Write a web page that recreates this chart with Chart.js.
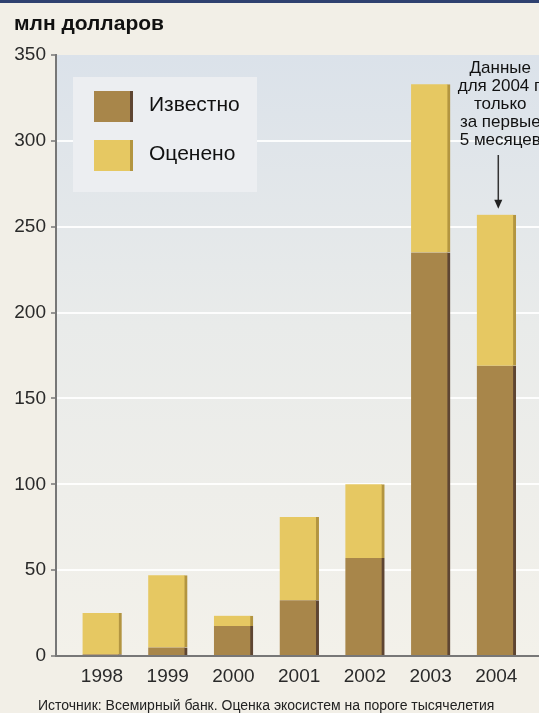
<!DOCTYPE html>
<html>
<head>
<meta charset="utf-8">
<script src="https://cdn.jsdelivr.net/npm/chart.js@4.4.1/dist/chart.umd.min.js"></script>
<style>
  html, body { margin: 0; padding: 0; background: #f2efe7; }
  #wrap { width: 539px; height: 713px; }
</style>
</head>
<body>
<div id="wrap"><canvas id="c" width="539" height="713"></canvas></div>
<script>
// данные (млн долларов)
const years = [1998, 1999, 2000, 2001, 2002, 2003, 2004];
const known = [1, 5, 17.5, 32.5, 57, 235, 169];
const estimated = [24, 42, 6, 48.5, 43, 98, 88];
const yTicks = [0, 50, 100, 150, 200, 250, 300, 350];
const noteLines = ['Данные', 'для 2004 г.', 'только', 'за первые', '5 месяцев'];

const FONT = '"Liberation Sans", Arial, sans-serif';

const decor = {
    id: 'decor',
    beforeDraw(chart) {
        const ctx = chart.ctx;
        const a = chart.chartArea;
        ctx.save();
        ctx.fillStyle = '#f2efe7';
        ctx.fillRect(0, 0, chart.width, chart.height);
        ctx.fillStyle = '#2f4170';
        ctx.fillRect(0, 0, chart.width, 3);
        // фон области графика
        const g = ctx.createLinearGradient(0, a.top, 0, a.bottom);
        g.addColorStop(0, '#dbe2ea');
        g.addColorStop(0.45, '#e9ebea');
        g.addColorStop(1, '#f3f1ea');
        ctx.fillStyle = g;
        ctx.fillRect(a.left, a.top, a.right - a.left, a.bottom - a.top);
        ctx.restore();
    },
    afterDraw(chart) {
        const ctx = chart.ctx;
        const xs = chart.scales.x, ys = chart.scales.y;
        ctx.save();
        // заголовок
        ctx.fillStyle = '#111';
        ctx.font = 'bold 21px ' + FONT;
        ctx.textBaseline = 'alphabetic';
        ctx.textAlign = 'left';
        ctx.fillText('млн долларов', 14, 30);

        // легенда
        ctx.fillStyle = '#eceef1';
        ctx.fillRect(73, 77, 184, 115);
        const ds = chart.data.datasets;
        [0, 1].forEach(i => {
            const y = 91 + i * 49;
            ctx.fillStyle = ds[i].backgroundColor;
            ctx.fillRect(94, y, 36, 31);
            ctx.fillStyle = ds[i].borderColor;
            ctx.fillRect(130, y, 3, 31);
            ctx.fillStyle = '#111';
            ctx.font = '21px ' + FONT;
            ctx.textBaseline = 'middle';
            ctx.fillText(ds[i].label, 149, y + 14);
        });

        // примечание для 2004
        const last = years.length - 1;
        const cx = xs.getPixelForValue(years[last]);
        const tip = ys.getPixelForValue(known[last] + estimated[last]) - 6;
        ctx.fillStyle = '#111';
        ctx.font = '17px ' + FONT;
        ctx.textAlign = 'center';
        ctx.textBaseline = 'middle';
        noteLines.forEach((t, i) => ctx.fillText(t, cx + 4, 68 + i * 18.2));
        ctx.strokeStyle = '#333';
        ctx.lineWidth = 1.5;
        ctx.beginPath();
        ctx.moveTo(cx + 2, 155);
        ctx.lineTo(cx + 2, tip - 4);
        ctx.stroke();
        ctx.fillStyle = '#222';
        ctx.beginPath();
        ctx.moveTo(cx + 2, tip);
        ctx.lineTo(cx - 2, tip - 9);
        ctx.lineTo(cx + 6, tip - 9);
        ctx.closePath();
        ctx.fill();

        // источник
        ctx.textAlign = 'left';
        ctx.font = '14px ' + FONT;
        ctx.fillStyle = '#222';
        ctx.fillText('Источник: Всемирный банк. Оценка экосистем на пороге тысячелетия', 38, 706);
        ctx.restore();
    }
};

new Chart(document.getElementById('c'), {
    type: 'bar',
    data: {
        datasets: [
            {
                label: 'Известно',
                data: known.map((v, i) => ({ x: years[i], y: v })),
                backgroundColor: '#a8864a',
                borderColor: '#5e4532',
                borderWidth: { top: 0, right: 3, bottom: 0, left: 0 },
                borderSkipped: false,
                barThickness: 39
            },
            {
                label: 'Оценено',
                data: estimated.map((v, i) => ({ x: years[i], y: v })),
                backgroundColor: '#e6c862',
                borderColor: '#b39540',
                borderWidth: { top: 0, right: 3, bottom: 0, left: 0 },
                borderSkipped: false,
                barThickness: 39
            }
        ]
    },
    options: {
        responsive: false,
        animation: false,
        layout: { padding: { top: 55, left: 0, right: 0, bottom: 0 } },
        plugins: {
            legend: { display: false },
            tooltip: { enabled: false }
        },
        scales: {
            x: {
                type: 'linear',
                stacked: true,
                offset: false,
                min: 1997.3,
                max: 2004.65,
                afterBuildTicks: s => { s.ticks = years.map(v => ({ value: v })); },
                afterFit: s => { s.height = 57; },
                grid: { display: false, drawTicks: false },
                border: { display: true, color: '#777', width: 2 },
                ticks: {
                    padding: 9,
                    color: '#2a2a2a',
                    font: { family: FONT, size: 19 },
                    callback: v => String(v)
                }
            },
            y: {
                stacked: true,
                min: 0,
                max: 350,
                afterBuildTicks: s => { s.ticks = yTicks.map(v => ({ value: v })); },
                afterFit: s => { s.width = 56; },
                grid: {
                    color: c => (c.tick && (c.tick.value === 0 || c.tick.value === 350)) ? 'rgba(0,0,0,0)' : 'rgba(255,255,255,0.9)',
                    lineWidth: 2,
                    tickColor: '#777',
                    tickLength: 5,
                    tickWidth: 1.5
                },
                border: { display: true, color: '#777', width: 2 },
                ticks: {
                    padding: 5,
                    color: '#2a2a2a',
                    font: { family: FONT, size: 19 }
                }
            }
        }
    },
    plugins: [decor]
});
</script>
</body>
</html>
